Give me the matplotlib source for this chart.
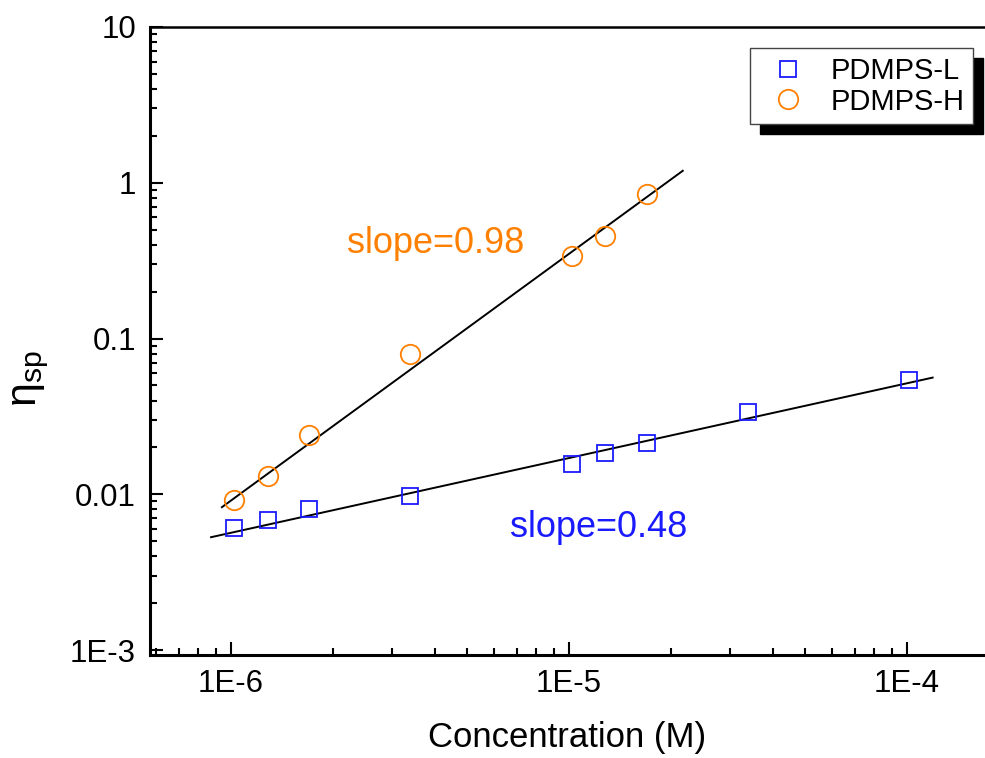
import matplotlib
matplotlib.use('Agg')
import matplotlib.pyplot as plt
import numpy as np
from matplotlib.ticker import FixedLocator, LogLocator, NullFormatter, FixedFormatter

plt.rcParams['font.family'] = ['Liberation Sans', 'DejaVu Sans']
plt.rcParams['mathtext.fontset'] = 'custom'
plt.rcParams['mathtext.rm'] = 'Liberation Sans'

# concentration (M) and specific viscosity
conc_L = [1.02e-6, 1.29e-6, 1.70e-6, 3.39e-6, 1.02e-5, 1.28e-5, 1.70e-5, 3.39e-5, 1.01e-4]
eta_L = [0.00605, 0.0068, 0.0081, 0.0097, 0.0156, 0.0183, 0.0215, 0.034, 0.0538]

conc_H = [1.02e-6, 1.29e-6, 1.70e-6, 3.39e-6, 1.02e-5, 1.28e-5, 1.70e-5]
eta_H = [0.0092, 0.0132, 0.0242, 0.080, 0.34, 0.457, 0.85]

# power-law fits: log10(eta) = a + b*log10(c), drawn over [x0, x1]
fit_L = dict(a=0.633, b=0.48, x0=8.73e-7, x1=1.19e-4)
fit_H = dict(a=7.464, b=1.584, x0=9.4e-7, x1=2.17e-5)

xticks = [1e-6, 1e-5, 1e-4]
xticklabels = ['1E-6', '1E-5', '1E-4']
yticks = [1e-3, 1e-2, 1e-1, 1, 10]
yticklabels = ['1E-3', '0.01', '0.1', '1', '10']

blue = '#1a1aff'
orange = '#ff8000'

fig = plt.figure(figsize=(9.85, 7.58), dpi=100)
ax = fig.add_axes([150/985, 1 - 655/758, 1 - 150/985, (655 - 27)/758])

def fit_line(f):
    xs = np.array([f['x0'], f['x1']])
    return xs, 10 ** (f['a'] + f['b'] * np.log10(xs))

for f in (fit_L, fit_H):
    xs, ys = fit_line(f)
    ax.plot(xs, ys, color='black', lw=1.4, zorder=2)

ax.plot(conc_L, eta_L, ls='none', marker='s', ms=12.2, mfc='none', mec=blue, mew=1.3,
        label='PDMPS-L', zorder=3)
ax.plot(conc_H, eta_H, ls='none', marker='o', ms=14, mfc='none', mec=orange, mew=1.3,
        label='PDMPS-H', zorder=3)

ax.set_xscale('log')
ax.set_yscale('log')
ax.set_xlim(5.76e-7, 1.70e-4)
ax.set_ylim(9.3e-4, 10)

ax.xaxis.set_major_locator(FixedLocator(xticks))
ax.xaxis.set_major_formatter(FixedFormatter(xticklabels))
ax.xaxis.set_minor_locator(LogLocator(base=10, subs=np.arange(2, 10)))
ax.xaxis.set_minor_formatter(NullFormatter())
ax.yaxis.set_major_locator(FixedLocator(yticks))
ax.yaxis.set_major_formatter(FixedFormatter(yticklabels))
ax.yaxis.set_minor_locator(LogLocator(base=10, subs=np.arange(2, 10)))
ax.yaxis.set_minor_formatter(NullFormatter())

ax.tick_params(which='both', direction='in', top=False, right=False, width=1.5)
ax.tick_params(which='major', length=9.5, labelsize=22.5, pad=10)
ax.tick_params(which='minor', length=5)

ax.spines['right'].set_visible(False)
for s in ('left', 'bottom'):
    ax.spines[s].set_linewidth(2.2)
ax.spines['top'].set_linewidth(1.8)

ax.set_xlabel('Concentration (M)', fontsize=25, labelpad=16)
ax.set_ylabel(r'η$_{\mathregular{sp}}$', fontsize=31, labelpad=14)
ax.yaxis.label.set_y(0.44)

ax.text(2.2e-6, 0.406, 'slope=0.98', color=orange, fontsize=26, ha='left', va='center')
ax.text(6.68e-6, 0.00614, 'slope=0.48', color=blue, fontsize=26, ha='left', va='center')

leg = ax.legend(loc='upper left', bbox_to_anchor=(750/985, 1 - 48/758),
                bbox_transform=fig.transFigure, fontsize=21, numpoints=1,
                fancybox=False, edgecolor='#444444', framealpha=1,
                borderpad=0.3, labelspacing=0.1, handlelength=2.0, handletextpad=0.45,
                borderaxespad=0,
                shadow={'ox': 7, 'oy': -7, 'color': 'black', 'alpha': 1})
leg.get_frame().set_linewidth(1.0)

plt.savefig('out.png', dpi=100)
